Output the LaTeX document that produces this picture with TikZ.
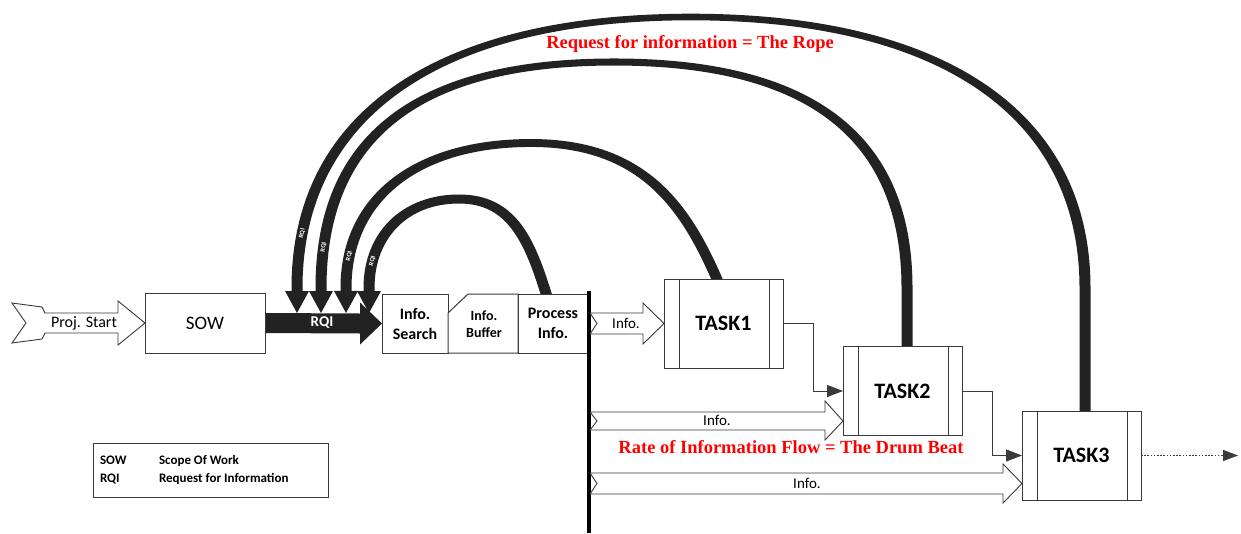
\documentclass[tikz,border=0pt]{standalone}
\usepackage{fontspec}
\setmainfont{Carlito}
\newfontfamily\ropefont{Liberation Serif}
\usetikzlibrary{arrows.meta,calc,backgrounds}
\definecolor{ink}{HTML}{222222}
\definecolor{edge}{HTML}{3A3A3A}
\definecolor{note}{HTML}{FF0000}
\newcommand\setfs[2]{\fontsize{#1}{#2}\selectfont}
\begin{document}
\begin{tikzpicture}[x=1pt,y=-1pt,
  every node/.style={inner sep=0pt, outer sep=0pt},
  box/.style={draw=edge, line width=1pt, fill=white, align=center},
  taskbox/.style={box, minimum width=119pt, minimum height=89pt,
    font=\bfseries\setfs{22}{26},
    path picture={\draw[draw=edge,line width=1pt]
      ([xshift=15pt]path picture bounding box.north west) -- ([xshift=15pt]path picture bounding box.south west)
      ([xshift=-14pt]path picture bounding box.north east) -- ([xshift=-14pt]path picture bounding box.south east);}},
  stagebox/.style={box, minimum height=59pt, font=\bfseries\setfs{16}{20}},
  openarrow/.style={draw=edge, line width=0.9pt, fill=white},
  infotext/.style={font=\setfs{15}{18}},
  % a rope is stroked under a vertical squeeze of the canvas, so it is
  % thinner where it runs across than where it runs down
  rope/.style={draw=ink, line width=11pt, -{Triangle[length=#1,width=24pt,line width=0pt]}},
  ropetag/.style={sloped, text=white, font=\bfseries\setfs{6.5}{7}},
  link/.style={draw=edge, line width=1pt, -{Triangle[length=16pt,width=12pt]}},
  motto/.style={text=note, font=\ropefont\bfseries\setfs{18.5}{22}},
  legendtext/.style={anchor=base west, font=\bfseries\setfs{13}{15}},
]
\path[use as bounding box] (0,0) rectangle (1241,533);

% project start and scope of work
\node[box, minimum width=120pt, minimum height=60pt, font=\setfs{19}{22}] (sow) at (205,323) {SOW};
\draw[openarrow] (12,303) -- (42,307) -- (45,313) -- (118,313) -- (118,301) -- (sow.west)
  -- (118,345) -- (118,333) -- (45,333) -- (42,339) -- (12,343) -- (26,323) -- cycle;
\node[font=\setfs{16}{19}] (start) at (84,323) {Proj. Start};

% information stages
\node[stagebox, minimum width=66pt] (is) at (415,323.5) {Info.\\Search};
\node[stagebox, minimum width=70pt] (pi) at (553,323.5) {Process\\Info.};
\draw[draw=edge, line width=1pt, fill=white] ($(is.north east)+(0,19)$) -- ($(is.north east)+(20,0)$)
  -- (pi.north west) -- (pi.south west) -- (is.south east) -- cycle;
\node[align=center, font=\bfseries\setfs{14}{17}] (buf) at (484,324) {Info.\\Buffer};
\node[text=white, font=\bfseries\setfs{15}{18}] (rqi) at (322,323) {RQI};

% tasks
\node[taskbox] (t1) at (723.5,323.5) {TASK1};
\node[taskbox] (t2) at (902.5,391) {TASK2};
\node[taskbox] (t3) at (1081.5,455.5) {TASK3};

% release line
\coordinate (bartop) at (589,291);
\coordinate (barfoot) at (589,533);
\draw[black, line width=4pt] (bartop) -- (barfoot);

% information flows
\draw[openarrow] (590,313) -- (643,313) -- (643,303) -- (t1.west) -- (643,344) -- (643,334) -- (590,334) -- (597,323.5) -- cycle;
\node[infotext] (info1) at (626,323) {Info.};
\draw[openarrow] (590,412) -- (825,412) -- (825,401) -- (843,421) -- (825,440) -- (825,430) -- (590,430) -- (597,421) -- cycle;
\node[infotext] (info2) at (717,420) {Info.};
\draw[openarrow] (590,473) -- (1003,473) -- (1003,464) -- (1022,483.5) -- (1003,503) -- (1003,494) -- (590,494) -- (597,483.5) -- cycle;
\node[infotext] (info3) at (807,483) {Info.};

% task hand-offs
\draw[link] (t1.east) -- ++(30,0) |- (t2.west);
\draw[link] (t2.east) -- ++(30,0) |- (t3.west);
\coordinate (flowout) at (1238,455.5);
\draw[draw=edge, line width=1.3pt, dash pattern=on 1.6pt off 1.6pt, -{Triangle[length=15pt,width=11pt]}] (t3.east) -- (flowout);

% captions
\node[motto] (ropenote) at (690,44) {Request for information = The Rope};
\node[motto] (drumnote) at (791,447) {Rate of Information Flow = The Drum Beat};

% legend
\node[draw=edge, line width=1pt, minimum width=235pt, minimum height=54pt] (legend) at (210.5,470) {};
\node[legendtext] (k1) at (100,464.5) {SOW};
\node[legendtext] (v1) at (159,464.5) {Scope Of Work};
\node[legendtext] (k2) at (100,482) {RQI};
\node[legendtext] (v2) at (159,482) {Request for Information};

% the ropes: requests for information running back to the start
\begin{scope}[on background layer]
\fill[white] (0,0) rectangle (1241,533);
\fill[ink] ($(sow.east)+(0,-10)$) -- ($(is.west)+(-22,-10)$) -- ($(is.west)+(-22,-21)$) -- (is.west)
  -- ($(is.west)+(-22,21)$) -- ($(is.west)+(-22,10)$) -- ($(sow.east)+(0,10)$) -- cycle;
\begin{scope}[transform canvas={yscale=0.6}]\begin{scope}[yscale=1/0.6]
\draw[rope=36.7pt] (1085,415) -- (1085,288) .. controls (1085,114.6) and (943.2,17) .. (691,17)
  .. controls (438.8,17) and (297,114.6) .. (297,288) -- (297,313);
\end{scope}\end{scope}
\begin{scope}[transform canvas={yscale=0.64}]\begin{scope}[yscale=1/0.64]
\draw[rope=34.4pt] (907,350) -- (907,288) .. controls (907,136.6) and (810.3,62) .. (614,62)
  .. controls (417.7,62) and (321,136.6) .. (321,288) -- (321,313);
\end{scope}\end{scope}
\begin{scope}[transform canvas={yscale=0.72}]\begin{scope}[yscale=1/0.72]
\draw[rope=30.6pt] (719.5,285) .. controls (687.5,210) and (646,143) .. (531,143)
  .. controls (416.3,143) and (346,198.1) .. (346,288) -- (346,313);
\end{scope}\end{scope}
\begin{scope}[transform canvas={yscale=0.82}]\begin{scope}[yscale=1/0.82]
\draw[rope=26.8pt] (548,300) .. controls (530,240) and (512,199) .. (459,199)
  .. controls (405,199) and (369,235) .. (369,288) -- (369,313);
\end{scope}\end{scope}
% rope tags follow the left flank of each rope
\path (691,17) .. controls (438.8,17) and (297,114.6) .. (297,288) node[ropetag,pos=0.89] (tag4) {RQI};
\path (614,62) .. controls (417.7,62) and (321,136.6) .. (321,288) node[ropetag,pos=0.905] (tag3) {RQI};
\path (531,143) .. controls (416.3,143) and (346,198.1) .. (346,288) node[ropetag,pos=0.875] (tag2) {RQI};
\path (459,199) .. controls (405,199) and (369,235) .. (369,288) node[ropetag,pos=0.82] (tag1) {RQI};
\end{scope}
\end{tikzpicture}
\end{document}
